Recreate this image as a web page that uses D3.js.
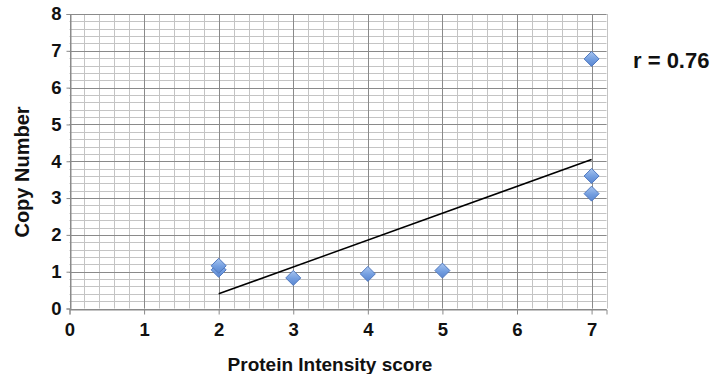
<!DOCTYPE html>
<html>
<head>
<meta charset="utf-8">
<script src="https://cdn.jsdelivr.net/npm/d3@7"></script>
<style>
  html, body { margin: 0; padding: 0; background: #fff; }
  svg { display: block; font-family: "Liberation Sans", Arial, sans-serif; }
</style>
</head>
<body>
<div id="chart"></div>
<script>
const intensity = [2, 2, 3, 4, 5, 7, 7, 7];
const copyNumber = [1.05, 1.16, 0.83, 0.94, 1.03, 6.78, 3.6, 3.12];
const xTickValues = [0, 1, 2, 3, 4, 5, 6, 7];
const yTickValues = [0, 1, 2, 3, 4, 5, 6, 7, 8];
const rLabel = 'r = 0.76';

const width = 715, height = 374;
const plot = { left: 69.5, right: 606.5, top: 14, bottom: 308.5 };

const svg = d3.select('#chart').append('svg')
  .attr('width', width).attr('height', height);

const x = d3.scaleLinear().domain([0, 7.2]).range([plot.left, plot.right]);
const y = d3.scaleLinear().domain([0, 8]).range([plot.bottom, plot.top]);

// Gitter: fein alle 0.2, grob bei ganzen Zahlen
const minorX = d3.range(0, 7.2001, 0.2).map(v => +v.toFixed(2));
const minorY = d3.range(0, 8.0001, 0.2).map(v => +v.toFixed(2));

const gGrid = svg.append('g').attr('class', 'grid');
gGrid.selectAll('line.mx').data(minorX).join('line')
  .attr('class', 'mx')
  .attr('x1', d => Math.round(x(d)) + 0.5).attr('x2', d => Math.round(x(d)) + 0.5)
  .attr('y1', plot.top).attr('y2', plot.bottom)
  .attr('stroke', '#c4c4c4').attr('stroke-width', 1);
gGrid.selectAll('line.my').data(minorY).join('line')
  .attr('class', 'my')
  .attr('x1', plot.left).attr('x2', plot.right)
  .attr('y1', d => Math.round(y(d)) + 0.5).attr('y2', d => Math.round(y(d)) + 0.5)
  .attr('stroke', '#c4c4c4').attr('stroke-width', 1);
gGrid.selectAll('line.Mx').data(xTickValues).join('line')
  .attr('class', 'Mx')
  .attr('x1', d => Math.round(x(d)) + 0.5).attr('x2', d => Math.round(x(d)) + 0.5)
  .attr('y1', plot.top).attr('y2', plot.bottom)
  .attr('stroke', '#8a8a8a').attr('stroke-width', 1);
gGrid.selectAll('line.My').data(yTickValues).join('line')
  .attr('class', 'My')
  .attr('x1', plot.left).attr('x2', plot.right)
  .attr('y1', d => Math.round(y(d)) + 0.5).attr('y2', d => Math.round(y(d)) + 0.5)
  .attr('stroke', '#8a8a8a').attr('stroke-width', 1);

// Achsen
const xAxis = d3.axisBottom(x).tickValues(xTickValues).tickFormat(d3.format('d')).tickSizeOuter(0).tickSize(5).tickPadding(8);
const yAxis = d3.axisLeft(y).tickValues(yTickValues).tickFormat(d3.format('d')).tickSizeOuter(0).tickSize(4).tickPadding(5);

svg.append('g')
  .attr('transform', `translate(0,${Math.round(plot.bottom) + 0.5})`)
  .call(xAxis)
  .call(g => {
    g.selectAll('.domain').attr('stroke', '#8a8a8a');
    g.selectAll('.tick line').attr('stroke', '#8a8a8a');
    g.selectAll('text').attr('font-size', 18.5).attr('font-weight', 'bold').attr('fill', '#111');
  });

svg.append('g')
  .attr('transform', `translate(${Math.round(plot.left) + 0.5},0)`)
  .call(yAxis)
  .call(g => {
    g.selectAll('.domain').attr('stroke', '#8a8a8a');
    g.selectAll('.tick line').attr('stroke', '#8a8a8a');
    g.selectAll('text').attr('font-size', 18.5).attr('font-weight', 'bold').attr('fill', '#111');
  });

// Trendlinie (kleinste Quadrate)
const mx = d3.mean(intensity), my = d3.mean(copyNumber);
const sxy = d3.sum(intensity, (d, i) => (d - mx) * (copyNumber[i] - my));
const sxx = d3.sum(intensity, d => (d - mx) * (d - mx));
const slope = sxy / sxx, icpt = my - slope * mx;
const [tx0, tx1] = d3.extent(intensity);

svg.append('line')
  .attr('x1', x(tx0)).attr('y1', y(icpt + slope * tx0))
  .attr('x2', x(tx1)).attr('y2', y(icpt + slope * tx1))
  .attr('stroke', '#000').attr('stroke-width', 1.5);

// Rauten-Marker
const defs = svg.append('defs');
const grad = defs.append('linearGradient').attr('id', 'dia')
  .attr('x1', 0).attr('y1', 0).attr('x2', 0).attr('y2', 1);
grad.append('stop').attr('offset', '0%').attr('stop-color', '#a9c6f0');
grad.append('stop').attr('offset', '55%').attr('stop-color', '#739ee0');
grad.append('stop').attr('offset', '100%').attr('stop-color', '#5a86cf');

const pts = intensity.map((d, i) => ({ x: d, y: copyNumber[i] }));
svg.append('g').selectAll('path').data(pts).join('path')
  .attr('transform', d => `translate(${x(d.x)},${y(d.y)})`)
  .attr('d', 'M0,-7.5L7.5,0L0,7.5L-7.5,0Z')
  .attr('fill', 'url(#dia)')
  .attr('stroke', '#5079c0').attr('stroke-width', 1);

// Achsentitel
svg.append('text')
  .attr('x', 330).attr('y', 371)
  .attr('text-anchor', 'middle')
  .attr('font-size', 19).attr('font-weight', 'bold').attr('fill', '#111')
  .text('Protein Intensity score');

svg.append('text')
  .attr('transform', 'translate(29,172) rotate(-90)')
  .attr('text-anchor', 'middle')
  .attr('font-size', 20).attr('font-weight', 'bold').attr('fill', '#111')
  .text('Copy Number');

svg.append('text')
  .attr('x', 633).attr('y', 68)
  .attr('font-size', 22).attr('font-weight', 'bold').attr('fill', '#111')
  .text(rLabel);
</script>
</body>
</html>
